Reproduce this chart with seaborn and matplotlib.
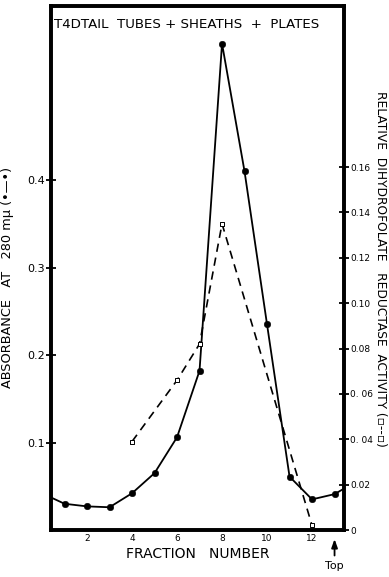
import matplotlib
matplotlib.use("Agg")
import matplotlib.pyplot as plt
import seaborn as sns
import pandas as pd

# ---- data ----
fractions_abs = [1, 2, 3, 4, 5, 6, 7, 8, 9, 10, 11, 12, 13]
absorbance = [0.030, 0.027, 0.026, 0.042, 0.065, 0.106, 0.182, 0.556, 0.410, 0.235, 0.061, 0.035, 0.041]
# line runs off both edges of the frame
edge_fractions = [0, 14]
edge_absorbance = [0.042, 0.056]

fractions_act = [4, 6, 7, 8, 12]
activity = [0.039, 0.066, 0.082, 0.135, 0.002]

x_ticks = [2, 4, 6, 8, 10, 12]
left_ticks = [0.1, 0.2, 0.3, 0.4]
left_ticklabels = ["0.1", "0.2", "0.3", "0.4"]
right_ticks = [0, 0.02, 0.04, 0.06, 0.08, 0.10, 0.12, 0.14, 0.16]
right_ticklabels = ["0", "0.02", "0. 04", "0. 06", "0.08", "0.10", "0.12", "0.14", "0.16"]

title = "T4DTAIL  TUBES + SHEATHS  +  PLATES"
xlabel = "FRACTION   NUMBER"
left_label = "ABSORBANCE   AT   280 mμ (•—•)"
right_label = "RELATIVE  DIHYDROFOLATE   REDUCTASE  ACTIVITY (▫--▫)"

sns.set_style("white")
plt.rcParams["font.family"] = ["DejaVu Sans"]
plt.rcParams["text.color"] = "black"
plt.rcParams["xtick.color"] = "black"
plt.rcParams["ytick.color"] = "black"
plt.rcParams["xtick.labelcolor"] = "black"
plt.rcParams["ytick.labelcolor"] = "black"

df_line = pd.DataFrame({
    "fraction": [edge_fractions[0]] + fractions_abs + [edge_fractions[1]],
    "abs": [edge_absorbance[0]] + absorbance + [edge_absorbance[1]],
})
df_abs = pd.DataFrame({"fraction": fractions_abs, "abs": absorbance})
df_act = pd.DataFrame({"fraction": fractions_act, "act": activity})

fig = plt.figure(figsize=(3.89, 5.77), dpi=100)
ax = fig.add_axes([51 / 389, 47 / 577, 293 / 389, 524 / 577])
ax2 = ax.twinx()

sns.lineplot(data=df_line, x="fraction", y="abs", ax=ax, color="black", lw=1.3, sort=False)
sns.scatterplot(data=df_abs, x="fraction", y="abs", ax=ax, color="black", s=22, edgecolor="black", zorder=5)

sns.lineplot(data=df_act, x="fraction", y="act", ax=ax2, color="black", lw=1.2,
             dashes=False, linestyle=(0, (5, 3.5)), sort=False)
sns.scatterplot(data=df_act, x="fraction", y="act", ax=ax2, marker="s", s=12,
                facecolor="white", edgecolor="black", linewidth=0.7, zorder=5)

ax.set_xlim(0.4, 13.42)
ax.set_ylim(0, 0.599)
ax2.set_ylim(0, 0.231)

ax.set_xticks(x_ticks)
ax.set_xticklabels([str(t) for t in x_ticks], fontsize=6.5)
ax.set_yticks(left_ticks)
ax.set_yticklabels(left_ticklabels, fontsize=8)
ax2.set_yticks(right_ticks)
ax2.set_yticklabels(right_ticklabels, fontsize=6.5)

ax.tick_params(axis="x", direction="in", length=6, width=1.3, pad=3)
ax.tick_params(axis="y", direction="inout", length=7, width=1.3, pad=1)
ax2.tick_params(axis="y", direction="inout", length=7, width=1.3, pad=1)

for a in (ax, ax2):
    for sp in a.spines.values():
        sp.set_linewidth(2.6)
        sp.set_color("black")
        sp.set_visible(True)

ax.set_xlabel("")
ax.set_ylabel("")
ax2.set_ylabel("")

fig.text(54 / 389, 1 - 25 / 577, title, ha="left", va="center", fontsize=9.6)
fig.text(198 / 389, 1 - 554 / 577, xlabel, ha="center", va="center", fontsize=10)
fig.text(8 / 389, 1 - 277 / 577, left_label, ha="center", va="center", rotation=90, fontsize=9.3)
fig.text(380 / 389, 1 - 269 / 577, right_label, ha="center", va="center", rotation=-90, fontsize=8.8)

ax.annotate("", xy=(13, -0.012), xytext=(13, -0.054),
            xycoords=("data", "axes fraction"), textcoords=("data", "axes fraction"),
            arrowprops=dict(arrowstyle="-|>,head_length=0.5,head_width=0.18", lw=1.3, color="black"),
            annotation_clip=False)
ax.annotate("Top", xy=(13, -0.069), xycoords=("data", "axes fraction"),
            ha="center", va="center", fontsize=8, annotation_clip=False)

fig.savefig("out.png", dpi=100)
